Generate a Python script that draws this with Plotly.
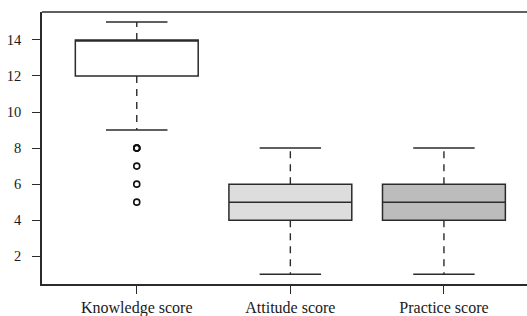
import plotly.graph_objects as go

categories = ["Knowledge score", "Attitude score", "Practice score"]
positions = [1, 2, 3]
q1 = [12, 4, 4]
median = [14, 5, 5]
q3 = [14, 6, 6]
lower_whisker = [9, 1, 1]
upper_whisker = [15, 8, 8]
fills = ["#ffffff", "#dddddd", "#bcbcbc"]
outlier_x = [1, 1, 1, 1, 1, 1]
outlier_y = [8, 8, 8, 7, 6, 5]
y_ticks = [2, 4, 6, 8, 10, 12, 14]

LINE = "#2b2b2b"
BOXW = 0.8
CAPW = 0.4

fig = go.Figure()

# dashed whiskers and caps
for i, x in enumerate(positions):
    fig.add_trace(go.Scatter(x=[x, x], y=[q3[i], upper_whisker[i]], mode="lines",
                             line=dict(color=LINE, width=1.4, dash="7px,6px"),
                             showlegend=False, hoverinfo="skip"))
    fig.add_trace(go.Scatter(x=[x, x], y=[q1[i], lower_whisker[i]], mode="lines",
                             line=dict(color=LINE, width=1.4, dash="7px,6px"),
                             showlegend=False, hoverinfo="skip"))
    for w in (upper_whisker[i], lower_whisker[i]):
        fig.add_trace(go.Scatter(x=[x - CAPW / 2, x + CAPW / 2], y=[w, w], mode="lines",
                                 line=dict(color=LINE, width=1.5),
                                 showlegend=False, hoverinfo="skip"))

# boxes
for i, x in enumerate(positions):
    fig.add_trace(go.Box(x=[x], q1=[q1[i]], median=[median[i]], q3=[q3[i]],
                         lowerfence=[q1[i]], upperfence=[q3[i]],
                         width=BOXW, fillcolor=fills[i],
                         line=dict(color=LINE, width=1.5),
                         whiskerwidth=0, showlegend=False, boxpoints=False))

# outliers
fig.add_trace(go.Scatter(x=outlier_x, y=outlier_y, mode="markers",
                         marker=dict(symbol="circle-open", size=6, color="#111111",
                                     line=dict(width=1.6)),
                         showlegend=False, hoverinfo="skip"))

fig.add_shape(type="line", xref="paper", yref="paper", x0=0, x1=1, y0=1, y1=1,
              line=dict(color=LINE, width=1.5))

FAMILY = "Liberation Serif, Times New Roman, serif"

fig.update_layout(
    width=545, height=316,
    margin=dict(l=42, r=0, t=12, b=32, autoexpand=False),
    paper_bgcolor="white", plot_bgcolor="white",
    font=dict(family=FAMILY, size=14, color="#1a1a1a"),
    xaxis=dict(range=[0.383, 3.658], tickvals=positions, ticktext=categories,
               tickfont=dict(family=FAMILY, size=16, color="#1a1a1a"),
               automargin=False,
               showgrid=False, zeroline=False, showline=True, linecolor=LINE, linewidth=1.5,
               ticks="outside", ticklen=8, tickwidth=1.3, tickcolor=LINE,
               ticklabelstandoff=0),
    yaxis=dict(range=[0.46, 15.55], tickvals=y_ticks,
               tickfont=dict(family=FAMILY, size=14.5, color="#1a1a1a"),
               automargin=False,
               showgrid=False, zeroline=False, showline=True, linecolor=LINE, linewidth=1.5,
               ticks="outside", ticklen=8, tickwidth=1.3, tickcolor=LINE,
               ticklabelstandoff=8),
)

fig.write_html(
    "out.html", config={"displayModeBar": False},
    post_script=(
        "document.documentElement.style.cssText='margin:0;overflow:hidden;width:527px;height:316px';"
        "document.body.style.cssText='margin:0;overflow:hidden;width:527px;height:316px';"
        "var p=document.getElementById('{plot_id}').parentElement;"
        "p.style.cssText='width:527px;height:316px;overflow:hidden';"
    ),
)
